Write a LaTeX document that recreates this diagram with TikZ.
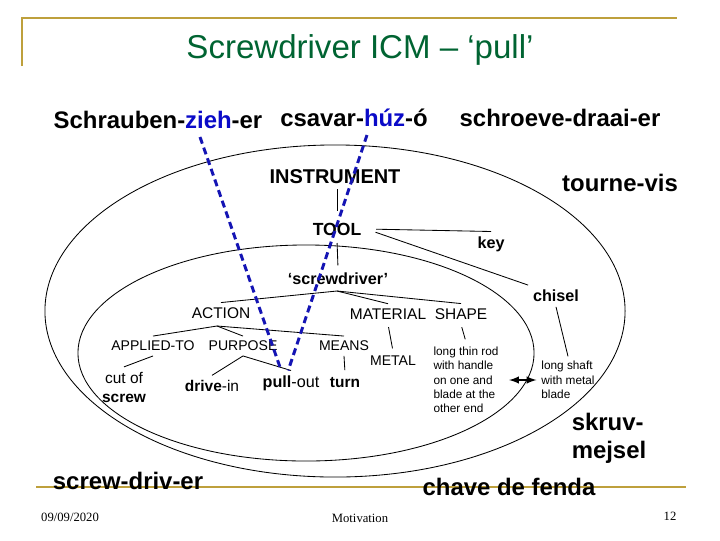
\documentclass[tikz,border=0pt]{standalone}
\usepackage{fontspec}
\setmainfont{Liberation Sans}
\newfontfamily\footfont{Liberation Serif}
\usepackage{tikz}
\definecolor{titlegreen}{RGB}{0,100,50}
\definecolor{gold}{RGB}{190,160,60}
\definecolor{dashblue}{RGB}{20,20,180}
\definecolor{wordblue}{RGB}{10,10,200}

\begin{document}
\begin{tikzpicture}[x=0.025cm, y=-0.025cm]
\tikzstyle{big} = [font=\bfseries\fontsize{17}{20}\selectfont, align=left]
\tikzstyle{head} = [font=\bfseries\fontsize{14.2}{17}\selectfont]
\tikzstyle{bsmall} = [font=\bfseries\fontsize{11.5}{14}\selectfont]
\tikzstyle{cat} = [font=\fontsize{10}{12}\selectfont]
\tikzstyle{word} = [font=\fontsize{11}{13.5}\selectfont, align=center]
\tikzstyle{note} = [font=\fontsize{8.4}{10.2}\selectfont, align=left]
\tikzstyle{foot} = [font=\footfont\fontsize{9}{11}\selectfont]
\tikzstyle{rim} = [draw=gold, line width=2.1pt]
\tikzstyle{tie} = [line width=0.6pt]
\tikzstyle{blueline} = [draw=dashblue, line width=2.1pt, dash pattern=on 5pt off 3pt]

\useasboundingbox (0,0) rectangle (720,540);
\fill[white] (0,0) rectangle (720,540);

\draw[rim] (22,66) -- (22,18) -- (677,18);
\draw[rim] (36,487) -- (686,487);

\draw[tie] (335,311) ellipse [x radius=7.25cm, y radius=4.15cm];
\draw[tie] (306,353) ellipse [x radius=5.7cm, y radius=2.7cm];

\node[font=\fontsize{23.5}{28}\selectfont, text=titlegreen] (title) at (360,50) {Screwdriver ICM – ‘pull’};

\node[big] (schr) at (158,120) {Schrauben-\textcolor{wordblue}{zieh}-er};
\node[big] (csav) at (354,118) {csavar-\textcolor{wordblue}{húz}-ó};
\node[big] (schroe) at (560,118) {schroeve-draai-er};

\node[head] (instr) at (335,177) {INSTRUMENT};
\node[big] (tourne) at (620,183) {tourne-vis};
\node[font=\bfseries\fontsize{12.5}{15}\selectfont] (tool) at (337,229) {TOOL};
\node[bsmall] (key) at (491,244) {key};
\node[bsmall] (screwd) at (338,279) {‘screwdriver’};
\node[bsmall] (chisel) at (556,296) {chisel};

\node[font=\fontsize{11}{13}\selectfont] (action) at (221,313) {ACTION};
\node[font=\fontsize{11}{13}\selectfont] (material) at (388,314) {MATERIAL};
\node[font=\fontsize{11}{13}\selectfont] (shape) at (461,314) {SHAPE};

\node[cat] (applied) at (153,346) {APPLIED-TO};
\node[cat] (purpose) at (243,346) {PURPOSE};
\node[cat] (means) at (344,346) {MEANS};
\node[cat] (metal) at (393,361) {METAL};

\node[word] (cut) at (124,387) {cut of\\\textbf{screw}};
\node[word] (drive) at (212,386) {\textbf{drive}-in};
\node[word, font=\fontsize{11.5}{13.5}\selectfont] (pull) at (291,383) {\textbf{pull}-out};
\node[word, font=\bfseries\fontsize{11}{13.5}\selectfont] (turn) at (345,383) {turn};

\node[note] (rod) at (466,380) {long thin rod\\with handle\\on one and\\blade at the\\other end};
\node[note] (shaft) at (568,380) {long shaft\\with metal\\blade};

\node[big, font=\bfseries\fontsize{17}{20}\selectfont] (skruv) at (609,438) {skruv-\\mejsel};
\node[big] (screwdriv) at (128,481) {screw-driv-er};
\node[big] (chave) at (509,487) {chave de fenda};

\node[foot] (date) at (70,517) {09/09/2020};
\node[foot] (motiv) at (360,518) {Motivation};
\node[foot] (page) at (670,516) {12};

\draw[tie, shorten >=5pt] (tool.north |- instr.south) -- (tool.north);
\draw[tie, shorten <=2pt, shorten >=2pt] (tool.south) -- (screwd.north);
\draw[tie, shorten <=7pt] (tool.east) -- (key.north);
\draw[tie, shorten <=7pt] (tool.east) -- (chisel.north west);

\coordinate (sdroot) at (337,291);
\draw[tie] (action.north) -- (sdroot) -- (shape.north);
\draw[tie] (sdroot) -- (material.north);
\draw[tie, shorten <=2pt, shorten >=2pt] (material.south) -- (metal.north);
\draw[tie, shorten <=2pt, shorten >=2pt] (shape.south) -- (rod.north);

\coordinate (actroot) at (217,326);
\draw[tie] (applied.north) -- (actroot) -- (means.north);
\draw[tie] (actroot) -- (purpose.north);
\draw[tie] (applied.south) -- (cut.north);
\draw[tie] (purpose.south) -- (drive.north);
\draw[tie] (purpose.south) -- (pull.north);
\draw[tie, shorten >=2pt] (means.south) -- (turn.north);
\draw[tie] (chisel.south) -- (shaft.north);

\draw[<->, >=latex, line width=1.4pt, shorten <=4pt] (rod.east) -- (shaft.west);

\coordinate (zieh) at (200,137);
\coordinate (huz) at (367,135);
\draw[blueline] (zieh) -- ([xshift=-7pt]pull.north);
\draw[blueline] (huz) -- ([xshift=-2pt]pull.north);
\end{tikzpicture}
\end{document}
